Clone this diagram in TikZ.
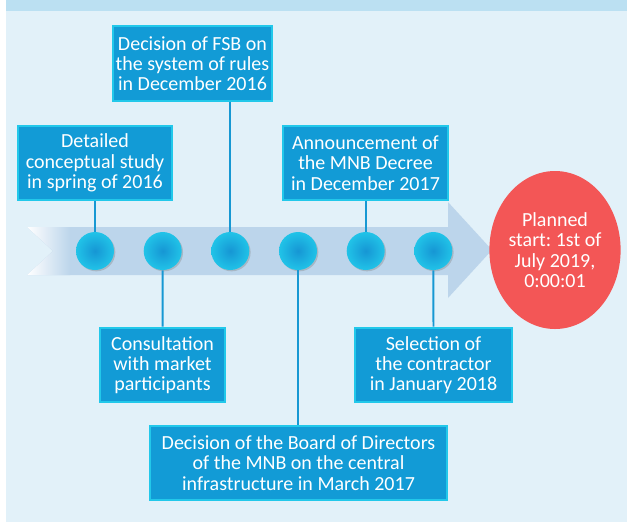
\documentclass[tikz,border=0pt]{standalone}
\usepackage{fontspec}
\setmainfont{Carlito}
\usepackage{tikz}
\usetikzlibrary{shapes.geometric, positioning, calc, shadows}
\definecolor{cBack}{RGB}{226,241,249}
\definecolor{cTop}{RGB}{187,224,242}
\definecolor{cBox}{RGB}{18,155,214}
\definecolor{cGlow}{RGB}{34,200,234}
\definecolor{cDot}{RGB}{22,150,212}
\definecolor{cBand}{RGB}{188,213,235}
\definecolor{cRed}{RGB}{243,86,86}
\definecolor{cStem}{RGB}{23,152,211}
\frenchspacing
\tikzset{
	eventbox/.style={rectangle, draw=cGlow, line width=1.6pt, fill=cBox, text=white, align=center, inner sep=2pt, minimum height=56pt},
	milestone/.style={circle, minimum size=28.5pt, inner sep=0pt, shading=radial, inner color=cDot, outer color=cGlow!90!cDot, drop shadow={shadow xshift=1pt, shadow yshift=-1pt, opacity=0.35}},
	stem/.style={draw=cStem, line width=1.4pt},
	goal/.style={ellipse, fill=cRed, text=white, align=center, minimum width=97.5pt, minimum height=118.5pt, inner sep=0pt},
}
\begin{document}
\begin{tikzpicture}[x=0.75pt, y=-0.75pt, font=\fontsize{15}{15.2}\selectfont]
	% page frame
	\useasboundingbox (0,0) rectangle (627,522);
	\fill[white] (0,0) rectangle (627,522);
	\fill[cBack] (6,0) rectangle (627,522);
	\fill[cTop] (6,0) rectangle (627,11);
	% timeline band with arrow head
	\fill[cBand] (27,227) -- (448,227) -- (448,202) -- (492,250) -- (448,298) -- (448,275) -- (27,275) -- (53,251) -- cycle;
	\shade[left color=white, right color=cBand] (27,227) -- (70,227) -- (70,275) -- (27,275) -- (53,251) -- cycle;
	% milestones
	\foreach \i/\x in {1/95, 2/162.7, 3/230.3, 4/298, 5/365.7, 6/433.3}
		\node[milestone] (m\i) at (\x,251) {};
	% events
	\node[eventbox, minimum width=115.5pt] (study) at (95,163) {Detailed\\conceptual study\\in spring of 2016};
	\node[eventbox, minimum width=112pt] (fsb) at (192.5,63.5) {Decision of FSB on\\the system of rules\\in December 2016};
	\node[eventbox, minimum width=123.5pt] (decree) at (365.5,163) {Announcement of\\the MNB Decree\\in December 2017};
	\node[eventbox, minimum width=94pt] (consult) at (162.5,365) {Consultation\\with market\\participants};
	\node[eventbox, minimum width=118pt] (contract) at (433.5,365) {Selection of\\the contractor\\in January 2018};
	\node[eventbox, minimum width=223pt] (board) at (298.5,463) {Decision of the Board of Directors\\of the MNB on the central\\infrastructure in March 2017};
	% stems
	\draw[stem] (study) -- (m1);
	\draw[stem] (m2) -- (consult);
	\draw[stem] (fsb.south -| m3) -- (m3);
	\draw[stem] (m4) -- (board.north -| m4);
	\draw[stem] (decree.south -| m5) -- (m5);
	\draw[stem] (m6) -- (contract);
	% planned start
	\node[goal] (start) at (555,250) {Planned\\start: 1st of\\July 2019,\\0:00:01};
\end{tikzpicture}
\end{document}
